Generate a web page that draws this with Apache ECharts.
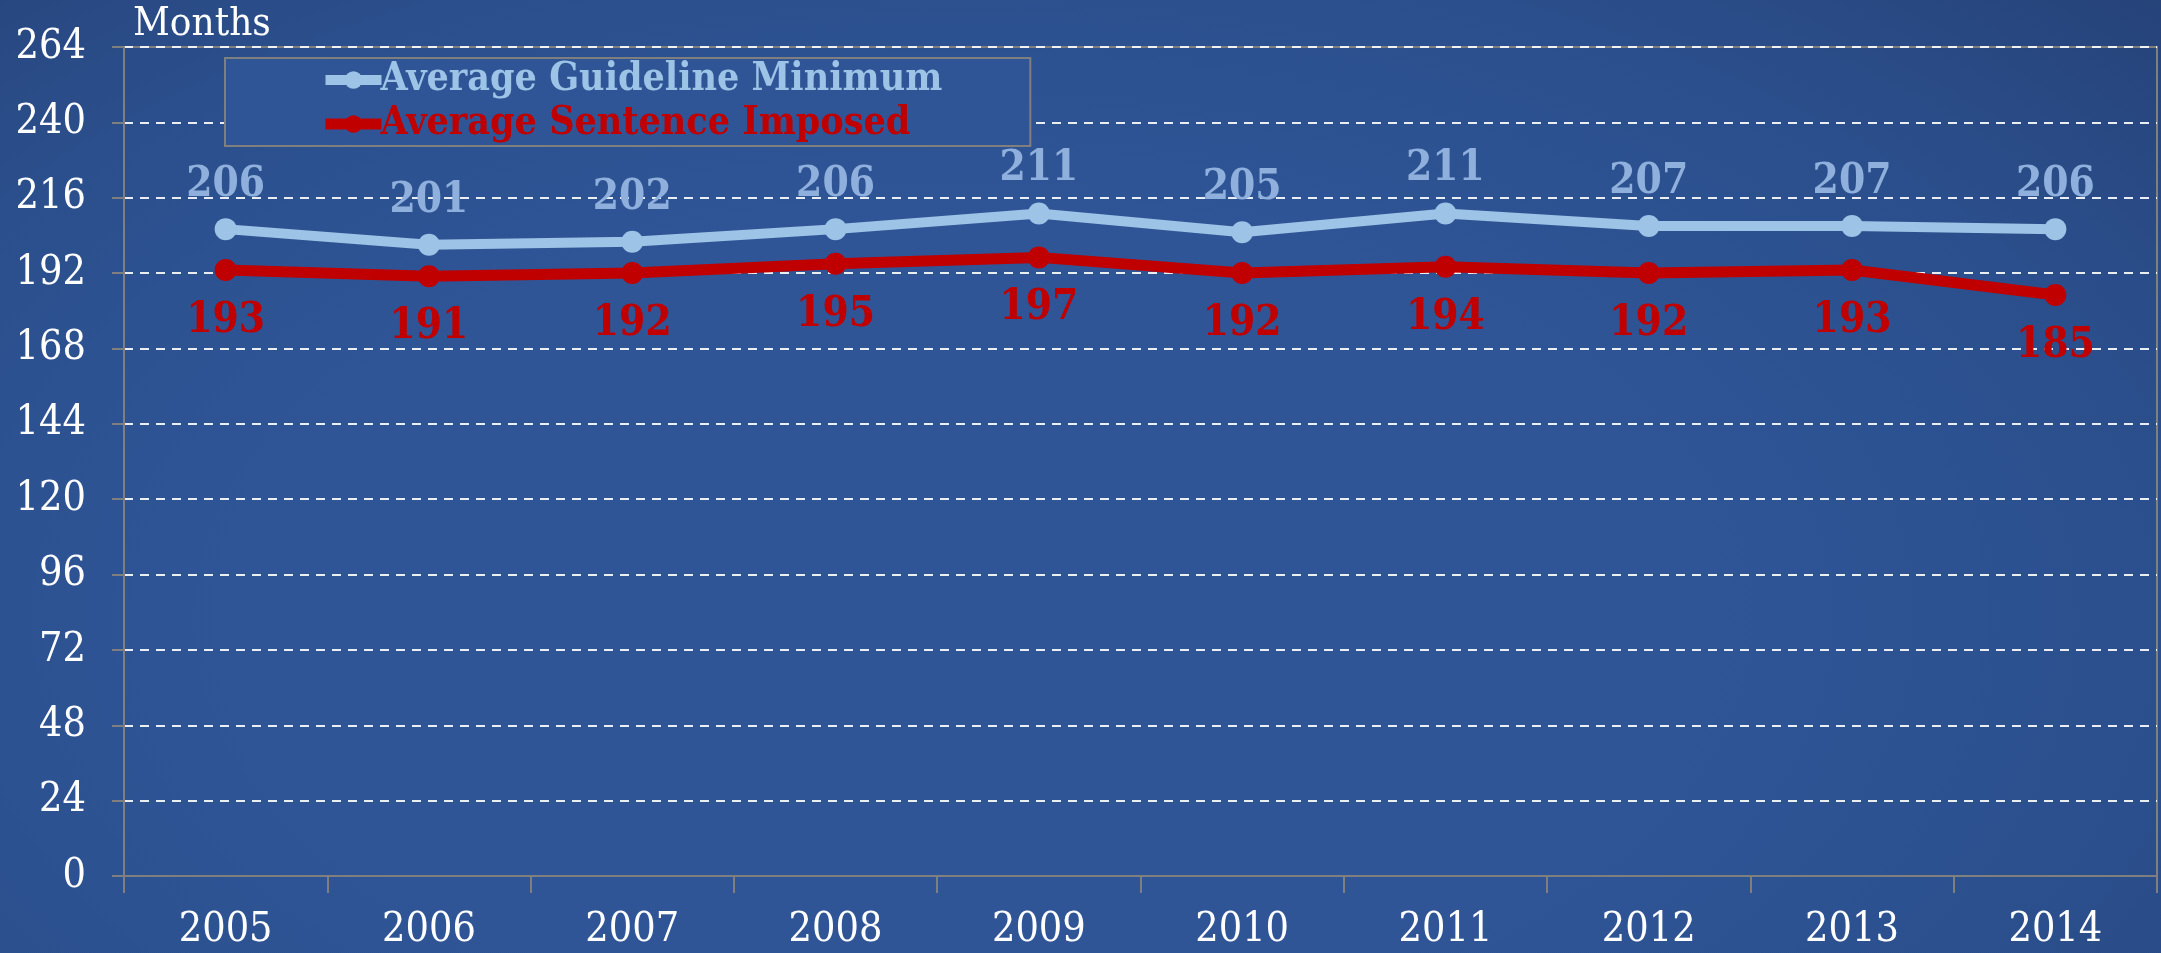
<!DOCTYPE html>
<html>
<head>
<meta charset="utf-8">
<script src="https://cdn.jsdelivr.net/npm/echarts@6/dist/echarts.min.js"></script>
<style>
  html, body { margin: 0; padding: 0; }
  body {
    width: 2161px; height: 953px;
    background: radial-gradient(ellipse 75% 95% at 45% 65%, #2f5597 0%, #2f5597 45%, #2b4f8c 75%, #26437a 100%);
  }
  #chart { width: 2161px; height: 953px; }
</style>
</head>
<body>
<div id="chart"></div>
<script>
const years = ["2005", "2006", "2007", "2008", "2009", "2010", "2011", "2012", "2013", "2014"];
const guidelineMin = [206, 201, 202, 206, 211, 205, 211, 207, 207, 206];
const sentenceImposed = [193, 191, 192, 195, 197, 192, 194, 192, 193, 185];
const yTicks = { min: 0, max: 264, step: 24 };

const fontFam = "'DejaVu Serif Condensed', 'DejaVu Serif', serif";
const lightBlue = "#9dc3e6";
const red = "#c00000";

const chart = echarts.init(document.getElementById("chart"));

chart.setOption({
  backgroundColor: "transparent",
  title: {
    text: "Months",
    left: 128,
    top: 0,
    textStyle: { color: "#ffffff", fontFamily: fontFam, fontSize: 40, fontWeight: "normal" }
  },
  legend: {
    orient: "vertical",
    left: 225,
    top: 58,
    padding: [2, 88, 2, 95],
    itemGap: 4,
    itemWidth: 56,
    itemHeight: 22,
    backgroundColor: "#2f5597",
    borderColor: "#7f7f7f",
    borderWidth: 2,
    textStyle: { fontFamily: fontFam, fontSize: 39, fontWeight: "bold", lineHeight: 40, padding: [0, 0, 0, -6] },
    data: [
      { name: "Average Guideline Minimum", textStyle: { color: lightBlue }, lineStyle: { width: 10, color: lightBlue } },
      { name: "Average Sentence Imposed", textStyle: { color: red }, lineStyle: { width: 11, color: red } }
    ]
  },
  grid: {
    left: 124,
    right: 4,
    top: 47,
    bottom: 77,
    show: true,
    borderColor: "#7f7f7f",
    borderWidth: 2
  },
  xAxis: {
    type: "category",
    data: years,
    boundaryGap: true,
    axisLine: { lineStyle: { color: "#7f7f7f", width: 2 } },
    axisTick: { show: true, length: 17, lineStyle: { color: "#7f7f7f", width: 2 } },
    axisLabel: { color: "#ffffff", fontFamily: fontFam, fontSize: 41, margin: 34 }
  },
  yAxis: {
    type: "value",
    min: yTicks.min,
    max: yTicks.max,
    interval: yTicks.step,
    axisLine: { show: true, lineStyle: { color: "#7f7f7f", width: 2 } },
    axisTick: { show: true, length: 12, lineStyle: { color: "#7f7f7f", width: 2 } },
    axisLabel: { color: "#ffffff", fontFamily: fontFam, fontSize: 41, margin: 38 },
    splitLine: { lineStyle: { color: "rgba(255,255,255,0.9)", width: 2, type: [9, 7] } }
  },
  series: [
    {
      name: "Average Guideline Minimum",
      type: "line",
      data: guidelineMin,
      symbol: "circle",
      symbolSize: 22,
      lineStyle: { color: lightBlue, width: 10 },
      itemStyle: { color: lightBlue },
      label: {
        show: true,
        position: "top",
        distance: 12,
        color: "#8fb0dc",
        fontFamily: fontFam,
        fontSize: 42,
        fontWeight: "bold"
      },
      z: 3
    },
    {
      name: "Average Sentence Imposed",
      type: "line",
      data: sentenceImposed,
      symbol: "circle",
      symbolSize: 22,
      lineStyle: { color: red, width: 11 },
      itemStyle: { color: red },
      label: {
        show: true,
        position: "bottom",
        distance: 19,
        color: red,
        fontFamily: fontFam,
        fontSize: 42,
        fontWeight: "bold"
      },
      z: 4
    }
  ]
});
</script>
</body>
</html>
